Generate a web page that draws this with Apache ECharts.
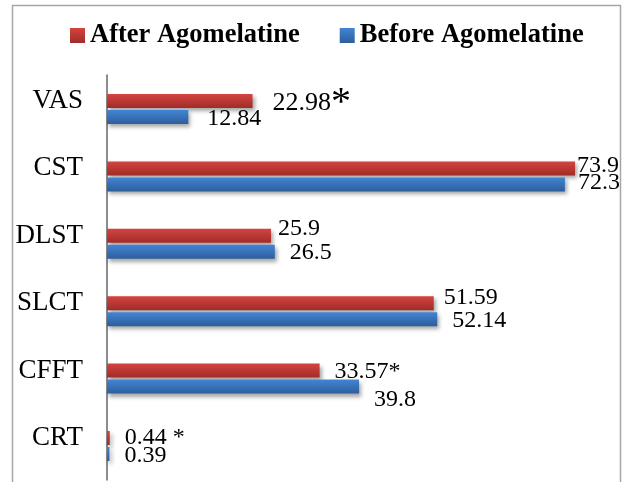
<!DOCTYPE html>
<html>
<head>
<meta charset="utf-8">
<script src="https://cdn.jsdelivr.net/npm/echarts@6/dist/echarts.min.js"></script>
<style>
  html, body { margin: 0; padding: 0; background: #fff; }
  #chart { width: 630px; height: 482px; }
</style>
</head>
<body>
<div id="chart"></div>
<script>
// Outcome measures (top to bottom)
var categories = ['VAS', 'CST', 'DLST', 'SLCT', 'CFFT', 'CRT'];
var afterValues = [22.98, 73.9, 25.9, 51.59, 33.57, 0.44];
var beforeValues = [12.84, 72.3, 26.5, 52.14, 39.8, 0.39];
// '*' marks a significant change after treatment
var afterMarks = ['*', '', '', '', '*', ' *'];
var seriesNames = ['After Agomelatine', 'Before Agomelatine'];

// label nudges so the numbers sit where they read best
var afterOffsets = [[15, 2], [-3, -3], [2, -7], [5, -6], [10, 1], [10, 0]];
var beforeOffsets = [[14, 2], [8, -2], [10, 1], [10, 2], [10, 13], [10, 2]];

var serif = '"Liberation Serif", "Times New Roman", serif';

function grad(top, bottom) {
  return new echarts.graphic.LinearGradient(0, 0, 0, 1, [
    { offset: 0, color: top },
    { offset: 1, color: bottom }
  ]);
}
var redFill = grad('#d4443f', '#a02c29');
var blueFill = grad('#4285d4', '#2d5e9c');

var barShadow = {
  shadowColor: 'rgba(0,0,0,0.35)',
  shadowBlur: 4,
  shadowOffsetX: 2,
  shadowOffsetY: 3
};

function buildData(values, offsets, marks, fill) {
  return values.map(function (v, i) {
    var mark = marks ? marks[i] : '';
    var fmt;
    if (mark === '*' && i === 0) {
      fmt = '{big|' + v + '}{bigstar|*}';
    } else {
      fmt = '{v|' + v + mark + '}';
    }
    return {
      value: v,
      itemStyle: Object.assign({ color: fill }, barShadow),
      label: {
        show: true,
        position: 'right',
        offset: offsets[i],
        formatter: fmt
      }
    };
  });
}

var labelRich = {
  v: { fontFamily: serif, fontSize: 24, color: '#000' },
  big: { fontFamily: serif, fontSize: 26, color: '#000' },
  bigstar: { fontFamily: serif, fontSize: 40, color: '#000' }
};

var chart = echarts.init(document.getElementById('chart'), null, { renderer: 'canvas' });

chart.setOption({
  animation: false,
  backgroundColor: '#fff',
  graphic: [{
    type: 'rect',
    silent: true,
    shape: { x: 12.5, y: 5.5, width: 608, height: 520 },
    style: { fill: 'none', stroke: '#a6a6a6', lineWidth: 1.5 },
    z: -1
  }],
  legend: {
    top: 17,
    left: 65,
    itemWidth: 15,
    itemHeight: 15,
    itemGap: 40,
    icon: 'rect',
    textStyle: { fontFamily: serif, fontSize: 26.5, fontWeight: 'bold', color: '#000' },
    data: [
      { name: seriesNames[0], itemStyle: { color: redFill } },
      { name: seriesNames[1], itemStyle: { color: blueFill } }
    ]
  },
  grid: { left: 107, right: 16.33, top: 75.3, height: 404.4, containLabel: false },
  xAxis: {
    type: 'value',
    min: 0,
    max: 80,
    show: false
  },
  yAxis: {
    type: 'category',
    inverse: true,
    data: categories,
    axisLine: { show: true, lineStyle: { color: '#8c8c8c', width: 2 } },
    axisTick: { show: false },
    axisLabel: {
      margin: 24,
      fontFamily: serif,
      fontSize: 27,
      color: '#000',
      verticalAlign: 'bottom',
      lineHeight: 16
    }
  },
  series: [
    {
      name: seriesNames[0],
      type: 'bar',
      barWidth: 14,
      barGap: '14%',
      label: { rich: labelRich },
      data: buildData(afterValues, afterOffsets, afterMarks, redFill)
    },
    {
      name: seriesNames[1],
      type: 'bar',
      barWidth: 14,
      barGap: '14%',
      label: { rich: labelRich },
      data: buildData(beforeValues, beforeOffsets, null, blueFill)
    }
  ]
});
</script>
</body>
</html>
